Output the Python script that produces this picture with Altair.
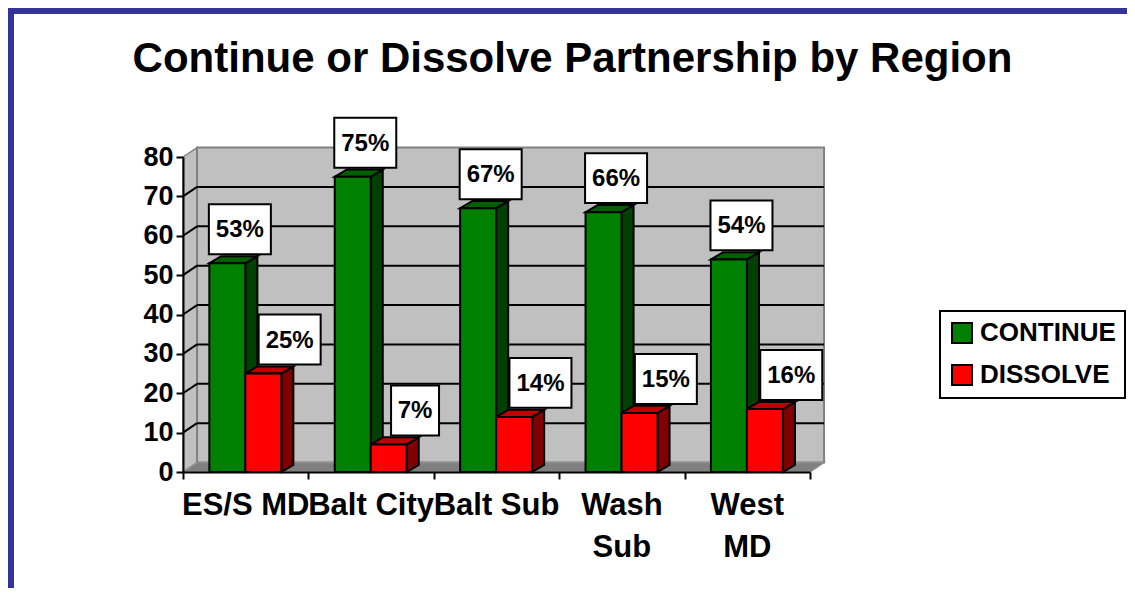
import altair as alt
import pandas as pd

# ---------------- data ----------------
TITLE = "Continue or Dissolve Partnership by Region"
regions = ["ES/S MD", "Balt City", "Balt Sub", "Wash Sub", "West MD"]
region_tick_labels = ["ES/S MD", "Balt City", "Balt Sub", "Wash\nSub", "West\nMD"]
series = ["CONTINUE", "DISSOLVE"]
continue_pct = [53, 75, 67, 66, 54]
dissolve_pct = [25, 7, 14, 15, 16]
y_ticks = [0, 10, 20, 30, 40, 50, 60, 70, 80]

# ---------------- style / layout constants ----------------
FONT = "Liberation Sans"
W, H = 627, 315
PAD = {"left": 175, "top": 149, "right": 317, "bottom": 116}
XMAX = len(regions)
YMAX = y_ticks[-1]
G0 = 0.21          # start of a bar group inside its category (category units)
BW = 0.287         # bar width (category units)
DXB, DYB = 0.096, 1.8   # 3-D depth of bars (x units, y units)
DXW, DYW = 0.112, 2.4   # 3-D depth of walls
LABEL_SHIFT = [0.10, 0.21]
FRONT = ["#008000", "#FF0000"]
SIDE = ["#004000", "#800000"]
TOP = ["#006000", "#C00000"]
BLUE = "#333399"
P_WIDE = "M-1,-0.806L1,-0.806L1,0.806L-1,0.806Z"
P_NARROW = "M-0.774,-0.806L0.774,-0.806L0.774,0.806L-0.774,0.806Z"

rows = []
for i, r in enumerate(regions):
    for s, vals in enumerate([continue_pct, dissolve_pct]):
        rows.append({"idx": i, "region": r, "series": series[s], "s": s, "value": vals[i]})
bars = pd.DataFrame(rows)
cats = pd.DataFrame({"idx": list(range(len(regions))), "label": region_tick_labels})
ticks = pd.DataFrame({"t": y_ticks})
one = pd.DataFrame({"z": [0]})

xs = alt.Scale(domain=[0, XMAX], nice=False, zero=False)
ys = alt.Scale(domain=[0, YMAX], nice=False, zero=False)

x_axis = alt.Axis(values=list(range(XMAX + 1)), labels=False, title=None, grid=False,
                  domainColor="black", domainWidth=2, tickColor="black", tickWidth=2,
                  tickSize=7, zindex=1)
y_axis = alt.Axis(values=y_ticks, title=None, grid=False, domainColor="black", domainWidth=2,
                  tickColor="black", tickWidth=2, tickSize=7, labelFont=FONT,
                  labelFontSize=27, labelFontWeight="bold", labelColor="black",
                  labelPadding=3, zindex=1)


def X(f, **kw):
    return alt.X(f, scale=xs, axis=x_axis, **kw)


def Y(f, **kw):
    return alt.Y(f, scale=ys, axis=y_axis, **kw)


# ---------------- frame ----------------
frame_top = alt.Chart(one).mark_rect(fill=BLUE).encode(
    x=alt.value(-PAD["left"]), x2=alt.value(W + PAD["right"]),
    y=alt.value(-PAD["top"]), y2=alt.value(-PAD["top"] + 6))
frame_left = alt.Chart(one).mark_rect(fill=BLUE).encode(
    x=alt.value(-PAD["left"]), x2=alt.value(-PAD["left"] + 6),
    y=alt.value(-PAD["top"]), y2=alt.value(H + PAD["bottom"]))

# ---------------- walls / floor ----------------
pair = alt.Chart(one).transform_calculate(k="[0,1]").transform_flatten(["k"])

side_wall = pair.transform_calculate(
    xa=f"datum.k*{DXW}", ya=f"{YMAX}+datum.k*{DYW}", yb=f"datum.k*{DYW}"
).mark_area(fill="#C0C0C0", stroke="#808080", strokeWidth=1.5).encode(
    x=X("xa:Q"), y=Y("ya:Q", stack=None), y2="yb:Q")

back_wall = alt.Chart(one).transform_calculate(
    xa=f"{DXW}", xb=f"{XMAX}+{DXW}", ya=f"{DYW}", yb=f"{YMAX}+{DYW}"
).mark_rect(fill="#C0C0C0", stroke="#808080", strokeWidth=2).encode(
    x=X("xa:Q"), x2="xb:Q", y=Y("ya:Q"), y2="yb:Q")

floor = pair.transform_calculate(
    ya=f"datum.k*{DYW}", xa=f"datum.k*{DXW}", xb=f"{XMAX}+datum.k*{DXW}"
).mark_area(orient="horizontal", fill="#808080", stroke="#909090", strokeWidth=1.5).encode(
    y=Y("ya:Q"), x=X("xa:Q", stack=None), x2="xb:Q")

grid_src = alt.Chart(ticks).transform_filter(
    f"datum.t > 0 && datum.t < {YMAX}"
).transform_calculate(yb=f"datum.t+{DYW}", x0="0", x1=f"{DXW}", x2e=f"{XMAX}+{DXW}")
grid_diag = grid_src.mark_rule(color="black", strokeWidth=2).encode(
    x=X("x0:Q"), x2="x1:Q", y=Y("t:Q"), y2="yb:Q")
grid_back = grid_src.mark_rule(color="black", strokeWidth=2).encode(
    x=X("x1:Q"), x2="x2e:Q", y=Y("yb:Q"))

# ---------------- bars ----------------
bar_base = alt.Chart(bars).transform_calculate(
    x0=f"datum.idx + {G0} + datum.s*{BW}"
).transform_calculate(
    x1=f"datum.x0 + {BW}", xc=f"datum.x0 + {BW / 2}", zero="0",
    bar="datum.idx + '_' + datum.s")

side = bar_base.transform_calculate(k="[0,1]").transform_flatten(["k"]).transform_calculate(
    xs=f"datum.x1 + datum.k*{DXB}", ya=f"datum.value + datum.k*{DYB}", yb=f"datum.k*{DYB}"
).mark_area(stroke="black", strokeWidth=2).encode(
    x=X("xs:Q"), y=Y("ya:Q", stack=None), y2="yb:Q", detail="bar:N",
    fill=alt.condition("datum.s == 0", alt.value(SIDE[0]), alt.value(SIDE[1])))

top = bar_base.transform_calculate(k="[0,1]").transform_flatten(["k"]).transform_calculate(
    yt=f"datum.value + datum.k*{DYB}", xa=f"datum.x0 + datum.k*{DXB}", xb=f"datum.x1 + datum.k*{DXB}"
).mark_area(orient="horizontal", stroke="black", strokeWidth=2).encode(
    y=Y("yt:Q"), x=X("xa:Q", stack=None), x2="xb:Q", detail="bar:N",
    fill=alt.condition("datum.s == 0", alt.value(TOP[0]), alt.value(TOP[1])))

legend = alt.Legend(title=None, orient="none", legendX=757, legendY=154, direction="vertical",
                    symbolType="square", symbolSize=400, symbolStrokeColor="black",
                    symbolStrokeWidth=2, symbolOpacity=1, labelFont=FONT, labelFontSize=26,
                    labelFontWeight="bold", labelColor="black", labelOffset=5,
                    rowPadding=14, padding=9, strokeColor="black", fillColor="white")

front = bar_base.mark_rect(stroke="black", strokeWidth=2).encode(
    x=X("x0:Q"), x2="x1:Q",
    y=Y("value:Q"), y2="zero:Q",
    color=alt.Color("series:N", scale=alt.Scale(domain=series, range=FRONT), legend=legend))

# ---------------- data labels ----------------
lab_base = bar_base.transform_calculate(
    xl=f"datum.xc + (datum.s == 0 ? {LABEL_SHIFT[0]} : {LABEL_SHIFT[1]})",
    w="datum.value >= 10 ? 'wide' : 'narrow'",
    lab="datum.value + '%'")

boxes = lab_base.mark_point(filled=True, fill="white", color="white", stroke="black",
                            strokeWidth=2, opacity=1, fillOpacity=1, strokeOpacity=1,
                            size=3844, yOffset=-34).encode(
    x=X("xl:Q"), y=Y("value:Q"),
    shape=alt.Shape("w:N", scale=alt.Scale(domain=["narrow", "wide"], range=[P_NARROW, P_WIDE]),
                    legend=None))

texts = lab_base.mark_text(font=FONT, fontSize=24, fontWeight="bold", color="black",
                           baseline="alphabetic", align="center", yOffset=-26).encode(
    x=X("xl:Q"), y=Y("value:Q"), text="lab:N")

# ---------------- category labels & title ----------------
cat_text = alt.Chart(cats).transform_calculate(xc="datum.idx + 0.5").mark_text(
    font=FONT, fontSize=31, fontWeight="bold", color="black", lineBreak="\n",
    lineHeight=42, baseline="alphabetic", align="center").encode(
    x=X("xc:Q"), y=alt.value(358), text="label:N")

title = alt.Chart(pd.DataFrame({"t": [TITLE]})).mark_text(
    font=FONT, fontSize=42, fontWeight="bold", color="black", baseline="alphabetic",
    align="center").encode(x=alt.value(389.5), y=alt.value(-85.3), text="t:N")

chart = alt.layer(
    frame_top, frame_left, side_wall, back_wall, floor, grid_diag, grid_back,
    side, top, front, boxes, texts, cat_text, title
).properties(
    width=W, height=H, autosize=alt.AutoSizeParams(type="none"), padding=PAD,
    background="white"
).configure_view(stroke=None).configure_legend(strokeWidth=2)

chart.save("out.html", embed_options={"renderer": "svg", "actions": False})
